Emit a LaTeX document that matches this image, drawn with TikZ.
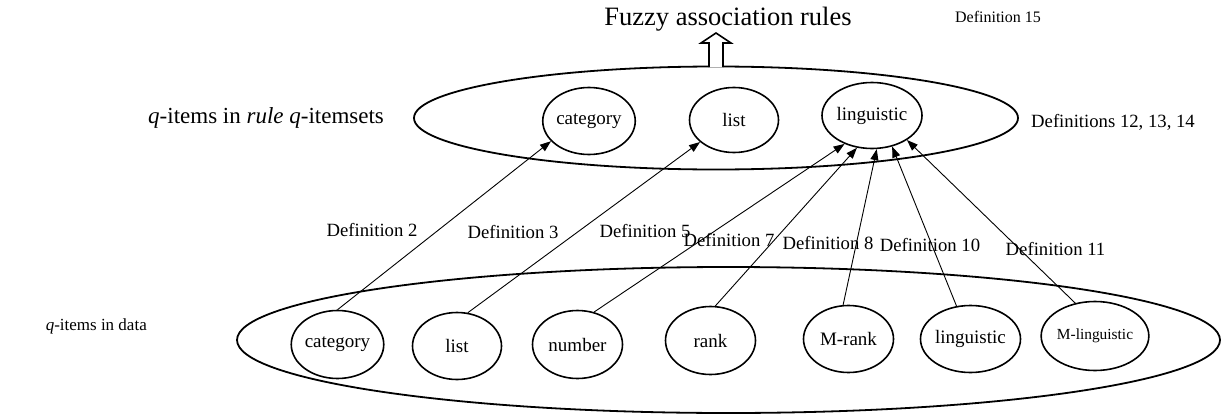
\documentclass[tikz,border=0pt]{standalone}
\usepackage{fontspec}
\setmainfont{Liberation Serif}
\usetikzlibrary{arrows.meta,shapes.geometric}
\begin{document}
\begin{tikzpicture}[x=1pt,y=-1pt,
  big/.style={draw,ellipse,line width=1.8pt,inner sep=0pt},
  item/.style={draw,ellipse,line width=1.6pt,inner sep=0pt,font=\fontsize{19}{19}\selectfont},
  conn/.style={line width=0.9pt,-{Triangle[length=11pt,width=8pt]}},
  lab/.style={inner sep=0pt,font=\fontsize{18.7}{19}\selectfont}]
\useasboundingbox (0,0) rectangle (1224,415);
% big ellipses
\node[big,minimum width=604pt,minimum height=103pt] (top) at (716,118) {};
\node[big,minimum width=983pt,minimum height=146pt] (bot) at (728.5,340) {};
% top items
\node[item,minimum width=91pt,minimum height=67pt] (tcat) at (589,121) {category};
\node[item,minimum width=89pt,minimum height=65pt] (tlist) at (734,120) {list};
\node[item,minimum width=90pt,minimum height=66pt] (tling) at (872,115.5) {linguistic};
% bottom items
\node[item,minimum width=90pt,minimum height=68pt] (bcat) at (337.5,344.5) {category};
\node[item,minimum width=89pt,minimum height=67pt] (blist) at (457,346) {list};
\node[item,minimum width=90pt,minimum height=68pt] (bnum) at (577.5,344.5) {number};
\node[item,minimum width=90pt,minimum height=68pt] (brank) at (710.5,340.5) {rank};
\node[item,minimum width=90pt,minimum height=67pt] (bmrank) at (848.5,339) {M-rank};
\node[item,minimum width=90pt,minimum height=67pt] (bling) at (970.5,339) {linguistic};
\node[item,minimum width=97pt,minimum height=69pt,font=\fontsize{15.4}{16}\selectfont] (bmling) at (1095,336) {M-linguistic};
% connectors
\draw[conn] (bcat.90) -- (tcat.-152);
\draw[conn] (blist.72) -- (tlist.-147);
\draw[conn] (bnum.63) -- (tling.-134);
\draw[conn] (brank.82) -- (tling.-115);
\draw[conn] (bmrank.99) -- (tling.-82);
\draw[conn] (bling.113) -- (tling.-57);
\draw[conn] (bmling.121) -- (tling.-35);
% labels
\node[lab] (d2) at (372,230) {Definition 2};
\node[lab] (d3) at (513,232) {Definition 3};
\node[lab] (d5) at (645,231) {Definition 5};
\node[lab] (d7) at (729,240) {Definition 7};
\node[lab] (d8) at (828,243) {Definition 8};
\node[lab] (d10) at (930,245) {Definition 10};
\node[lab] (d11) at (1055.5,249) {Definition 11};
\node[lab] (d121314) at (1113,122) {Definitions 12, 13, 14};
\node[inner sep=0pt,font=\fontsize{16}{16}\selectfont] (d15) at (998,17) {Definition 15};
\node[inner sep=0pt,anchor=base,font=\fontsize{26.5}{27}\selectfont] (title) at (728,25) {Fuzzy association rules};
\node[inner sep=0pt,anchor=west,font=\fontsize{23}{23}\selectfont] (lq1) at (148,118) {\textit{q}-items in \textit{rule} \textit{q}-itemsets};
\node[inner sep=0pt,anchor=base east,font=\fontsize{17}{17}\selectfont] (lq2) at (147,330) {\textit{q}-items in data};
% hollow up arrow
\draw[line width=1.6pt,fill=white] (709,67) -- (709,43) -- (701,43) -- (716,33) -- (731,43) -- (723,43) -- (723,67);
\end{tikzpicture}
\end{document}
